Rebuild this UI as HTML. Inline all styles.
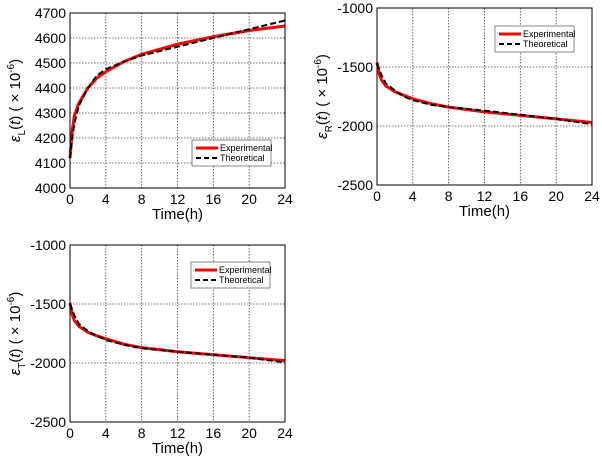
<!DOCTYPE html>
<html><head><meta charset="utf-8"><style>body{margin:0;background:#fff}svg{display:block;font-family:"Liberation Sans",Arial,sans-serif}</style></head>
<body>
<svg id="c" width="602" height="458" viewBox="0 0 602 458"></svg>
<script>
const times=[0,0.25,0.5,1,2,3,4,6,8,12,16,20,24];
const xTicks=[0,4,8,12,16,20,24];
const expL=[4120,4230,4290,4340,4400,4440,4465,4505,4535,4575,4605,4630,4648];
const theoL=[4120,4200,4260,4330,4400,4450,4475,4505,4530,4565,4600,4635,4670];
const expR=[-1460,-1560,-1610,-1660,-1710,-1740,-1770,-1810,-1840,-1880,-1910,-1940,-1970];
const theoR=[-1470,-1520,-1570,-1640,-1700,-1750,-1780,-1820,-1840,-1870,-1905,-1940,-1985];
const expT=[-1490,-1590,-1640,-1690,-1740,-1770,-1795,-1840,-1870,-1905,-1930,-1955,-1980];
const theoT=[-1500,-1550,-1600,-1670,-1730,-1770,-1805,-1845,-1875,-1905,-1930,-1955,-1995];
const yTicksL=[4000,4100,4200,4300,4400,4500,4600,4700];
const yTicksRT=[-2500,-2000,-1500,-1000];
const NS='http://www.w3.org/2000/svg';
const svg=document.getElementById('c');
function mk(t,a,p){const e=document.createElementNS(NS,t);for(const k in a)e.setAttribute(k,a[k]);(p||svg).appendChild(e);return e;}
function plot(id,x0,x1,y0,y1,ymin,ymax,yt,ex,th,sub,leg){
  const g=mk('g',{});
  
  
  const X=v=>x0+(v-0)/(24-0)*(x1-x0);
  const Y=v=>y1-(v-ymin)/(ymax-ymin)*(y1-y0);
  mk('rect',{x:x0,y:y0,width:x1-x0,height:y1-y0,fill:'#fff'},g);
  xTicks.forEach(t=>{
    if(t>0&&t<24){const l=mk('line',{x1:X(t),x2:X(t),y1:y0,y2:y1,stroke:'#444','stroke-width':0.8,'stroke-dasharray':'1.5,1.5'},g);}
    const tx=mk('text',{x:X(t),y:y1+16,'text-anchor':'middle','font-size':14},g);tx.textContent=t;
    
  });
  yt.forEach(t=>{
    if(t>ymin&&t<ymax){const l=mk('line',{x1:x0,x2:x1,y1:Y(t),y2:Y(t),stroke:'#444','stroke-width':0.8,'stroke-dasharray':'1.5,1.5'},g);}
    const tx=mk('text',{x:x0-4,y:Y(t)+5,'text-anchor':'end','font-size':14},g);tx.textContent=t;
    
  });
  const pts=a=>a.map((v,i)=>X(times[i])+','+Y(v)).join(' ');
  const e=mk('polyline',{points:pts(ex),fill:'none',stroke:'#f00','stroke-width':3},g);
  
  const t=mk('polyline',{points:pts(th),fill:'none',stroke:'#000','stroke-width':2,'stroke-dasharray':'6,3'},g);
  
  mk('rect',{x:x0,y:y0,width:x1-x0,height:y1-y0,fill:'none',stroke:'#000','stroke-width':1},g);
  const xl=mk('text',{x:(x0+x1)/2,y:y1+31,'text-anchor':'middle','font-size':15},g);xl.textContent='Time(h)';
  
  const cy=(y0+y1)/2, lx=x0-50;
  const yl=mk('text',{transform:`translate(${lx},${cy}) rotate(-90)`,'text-anchor':'middle','font-size':15},g);
  
  yl.innerHTML=`<tspan font-style="italic">ε</tspan><tspan font-size="10" dy="5">${sub}</tspan><tspan dy="-5">(</tspan><tspan font-style="italic">t</tspan><tspan>) ( × 10</tspan><tspan font-size="10" dy="-6">-6</tspan><tspan dy="6">)</tspan>`;
  const [lx0,ly0]=leg;
  const lg=mk('g',{},g);
  mk('rect',{x:lx0,y:ly0,width:79,height:26,fill:'#fff',stroke:'#666','stroke-width':0.8},lg);
  mk('line',{x1:lx0+4,x2:lx0+26,y1:ly0+8,y2:ly0+8,stroke:'#f00','stroke-width':3},lg);
  mk('line',{x1:lx0+4,x2:lx0+26,y1:ly0+18,y2:ly0+18,stroke:'#000','stroke-width':2,'stroke-dasharray':'5,3'},lg);
  const a=mk('text',{x:lx0+28,y:ly0+11,'font-size':9},lg);a.textContent='Experimental';
  
  const b=mk('text',{x:lx0+28,y:ly0+21,'font-size':9},lg);b.textContent='Theoretical';
  
}
plot('chart-longitudinal',70,285,13,188,4000,4700,yTicksL,expL,theoL,'L',[192,140]);
plot('chart-radial',377,592,8,185,-2500,-1000,yTicksRT,expR,theoR,'R',[495,26]);
plot('chart-tangential',70,285,245,422,-2500,-1000,yTicksRT,expT,theoT,'T',[191,262]);
</script>
</body></html>
